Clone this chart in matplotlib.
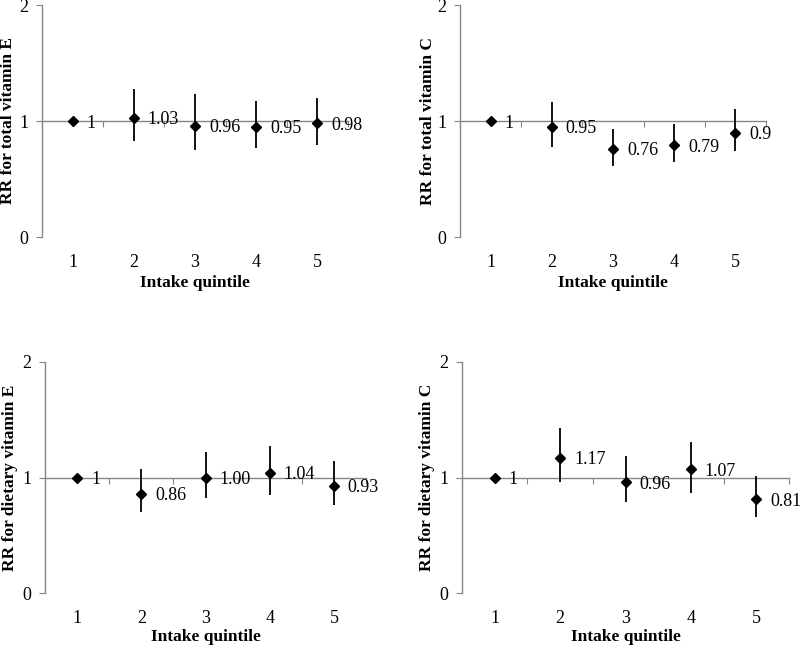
import matplotlib
matplotlib.use("Agg")
import matplotlib.pyplot as plt

plt.rcParams['font.family'] = ['Liberation Serif', 'DejaVu Serif']

quintiles = [1, 2, 3, 4, 5]
tick_labels = ["1", "2", "3", "4", "5"]

total_e_rr = [1.00, 1.03, 0.96, 0.95, 0.98]
total_e_lo = [1.00, 0.83, 0.75, 0.77, 0.79]
total_e_hi = [1.00, 1.28, 1.23, 1.17, 1.20]
total_e_lbl = ["1", "1.03", "0.96", "0.95", "0.98"]

total_c_rr = [1.00, 0.95, 0.76, 0.79, 0.90]
total_c_lo = [1.00, 0.78, 0.61, 0.65, 0.74]
total_c_hi = [1.00, 1.16, 0.93, 0.97, 1.10]
total_c_lbl = ["1", "0.95", "0.76", "0.79", "0.9"]

diet_e_rr = [1.00, 0.86, 1.00, 1.04, 0.93]
diet_e_lo = [1.00, 0.70, 0.82, 0.85, 0.76]
diet_e_hi = [1.00, 1.07, 1.22, 1.27, 1.14]
diet_e_lbl = ["1", "0.86", "1.00", "1.04", "0.93"]

diet_c_rr = [1.00, 1.17, 0.96, 1.07, 0.81]
diet_c_lo = [1.00, 0.96, 0.79, 0.87, 0.66]
diet_c_hi = [1.00, 1.43, 1.19, 1.31, 1.01]
diet_c_lbl = ["1", "1.17", "0.96", "1.07", "0.81"]

ylabels = ["RR for total vitamin E", "RR for total vitamin C",
           "RR for dietary vitamin E", "RR for dietary vitamin C"]

W, H = 800, 647
fig = plt.figure(figsize=(8, 6.47), dpi=100)

# pixel boxes: left, right, top, bottom ; ylabel center x ; xlabel center y
boxes = [
    (42, 348, 5, 237, 8, 283),
    (460, 766, 5, 237, 428, 283),
    (45, 366, 362, 593, 10, 637),
    (462, 789, 362, 593, 427, 637),
]
series = [
    (total_e_rr, total_e_lo, total_e_hi, total_e_lbl),
    (total_c_rr, total_c_lo, total_c_hi, total_c_lbl),
    (diet_e_rr, diet_e_lo, diet_e_hi, diet_e_lbl),
    (diet_c_rr, diet_c_lo, diet_c_hi, diet_c_lbl),
]
gray = "#868686"

for (l, r, t, b, ylx, xly), (rr, lo, hi, lbl), ylab in zip(boxes, series, ylabels):
    ax = fig.add_axes([l / W, 1 - b / H, (r - l) / W, (b - t) / H])
    ax.set_xlim(0.5, 5.5)
    ax.set_ylim(0, 2)
    for s in ["top", "right"]:
        ax.spines[s].set_visible(False)
    ax.spines["left"].set_color(gray)
    ax.spines["bottom"].set_color(gray)
    ax.spines["left"].set_linewidth(1.0)
    ax.spines["bottom"].set_linewidth(1.0)
    ax.spines["bottom"].set_position(("data", 1))
    ax.set_xticks([0.5, 1.5, 2.5, 3.5, 4.5, 5.5])
    ax.set_xticklabels([])
    ax.tick_params(axis="x", length=4, color=gray, direction="out")
    ax.set_yticks([0, 1, 2])
    ax.set_yticklabels(["0", "1", "2"])
    ax.tick_params(axis="y", length=4, color=gray, pad=6, labelsize=13)

    sec = ax.secondary_xaxis("bottom")
    sec.set_xticks(quintiles)
    sec.set_xticklabels(tick_labels)
    sec.tick_params(length=0, pad=12, labelsize=13)
    sec.spines["bottom"].set_visible(False)

    yerr = [[v - a for v, a in zip(rr, lo)], [c - v for v, c in zip(rr, hi)]]
    ax.errorbar(quintiles, rr, yerr=yerr, fmt="D", color="black",
                ecolor="black", elinewidth=1.3, capsize=0, markersize=5.5,
                zorder=3)
    for x, y, s in zip(quintiles, rr, lbl):
        ax.annotate(s, (x, y), xytext=(10, -1.5), textcoords="offset points",
                    ha="left", va="center", fontsize=13)

    ax.set_ylabel(ylab, fontsize=12.5, fontweight="bold", va="center")
    ax.set_xlabel("Intake quintile", fontsize=12.5, fontweight="bold", va="center")
    ax.yaxis.set_label_coords((ylx - l) / (r - l), 0.5)
    ax.xaxis.set_label_coords(0.5, (b - xly) / (b - t))

fig.savefig("out.png", dpi=100)
